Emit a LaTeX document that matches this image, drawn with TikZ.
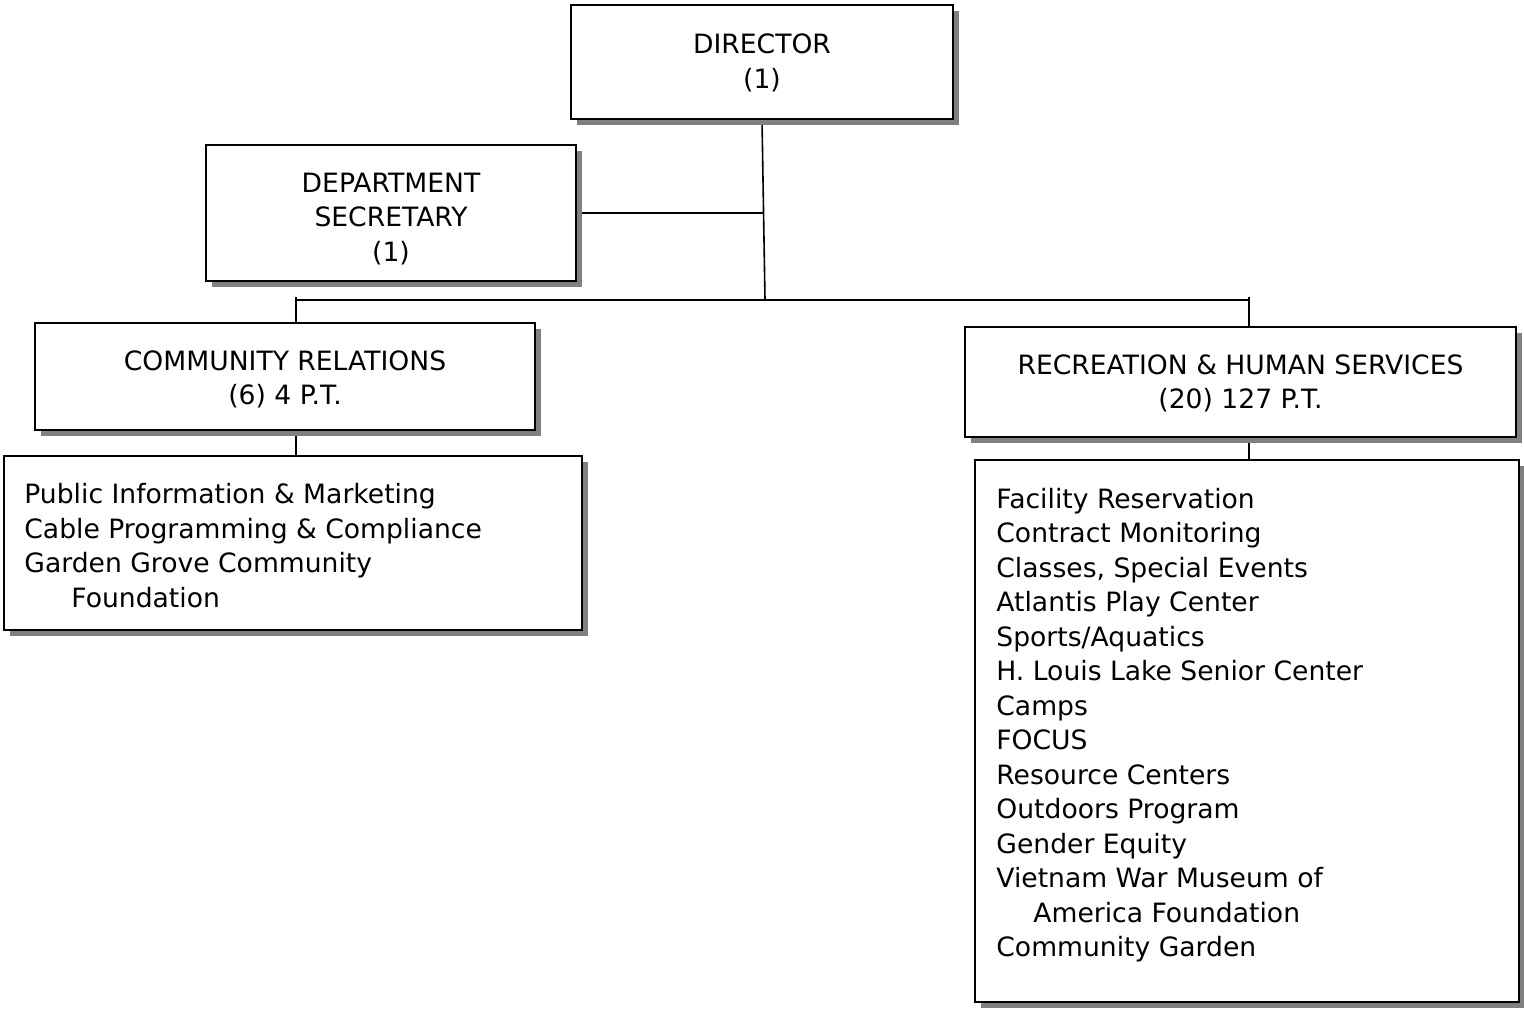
\documentclass[tikz,border=0pt]{standalone}
\usepackage{fontspec}
\setmainfont{DejaVu Sans}
\usetikzlibrary{shadows,backgrounds}
\begin{document}
\begin{tikzpicture}[x=0.5pt,y=-0.5pt,
  box/.style={draw=black, line width=1pt, fill=white, inner sep=0pt,
    drop shadow={shadow xshift=3pt, shadow yshift=-3pt, fill=black!50, opacity=1}},
  titletext/.style={inner sep=0pt, align=center, font=\fontsize{13.3}{17.25}\selectfont},
  listtext/.style={anchor=north west, inner sep=0pt, align=left,
    font=\fontsize{13.3}{17.25}\selectfont},
  conn/.style={draw=black, line width=0.8pt}]
\useasboundingbox (0,0) rectangle (1524,1008);
\node[box, minimum width=191pt, minimum height=57pt] (dir) at (762,62) {};
\node[box, minimum width=185pt, minimum height=68pt] (sec) at (391,213) {};
\node[box, minimum width=250pt, minimum height=53.5pt] (cr) at (285,376.5) {};
\node[box, minimum width=289pt, minimum height=87pt] (crl) at (293,543) {};
\node[box, minimum width=275.5pt, minimum height=55pt] (rhs) at (1240.5,382) {};
\node[box, minimum width=272pt, minimum height=271pt] (rhsl) at (1247,731) {};
\node[titletext] (dirtext) at (762,63) {DIRECTOR\\(1)};
\node[titletext] (sectext) at (391,219) {DEPARTMENT\\SECRETARY\\(1)};
\node[titletext] (crtitle) at (285,379.5) {COMMUNITY RELATIONS\\(6) 4 P.T.};
\node[titletext] (rhstitle) at (1240.5,383.5) {RECREATION \& HUMAN SERVICES\\(20) 127 P.T.};
\node[listtext] (crtext) at (24,483) {Public Information \& Marketing\\Cable Programming \& Compliance\\Garden Grove Community\\\hspace*{23.5pt}Foundation};
\node[listtext] (rhstext) at (996,487.5) {Facility Reservation\\Contract Monitoring\\Classes, Special Events\\Atlantis Play Center\\Sports/Aquatics\\H. Louis Lake Senior Center\\Camps\\FOCUS\\Resource Centers\\Outdoors Program\\Gender Equity\\Vietnam War Museum of\\\hspace*{18.5pt}America Foundation\\Community Garden};
\coordinate (bus) at (765,300);
\coordinate (busL) at (296,300);
\coordinate (busR) at (1249,300);
\coordinate (secj) at (763,213);
\begin{scope}[on background layer]
\draw[conn] (dir.south) -- (bus);
\draw[conn] (sec.east) -- (secj);
\draw[conn] (busL) -- (busR);
\draw[conn] ([yshift=1.5pt]busL) -- (busL |- cr.north);
\draw[conn] ([yshift=1.5pt]busR) -- (busR |- rhs.north);
\draw[conn] (busL |- cr.south) -- (busL |- crl.north);
\draw[conn] (busR |- rhs.south) -- (busR |- rhsl.north);
\end{scope}
\end{tikzpicture}
\end{document}
